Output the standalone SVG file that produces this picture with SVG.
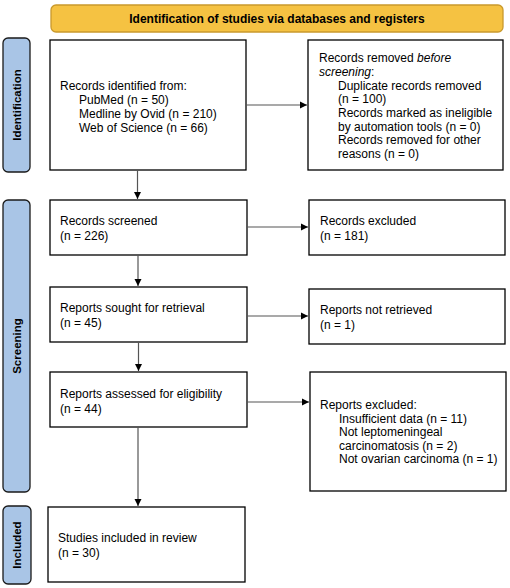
<svg xmlns="http://www.w3.org/2000/svg" width="510" height="588" viewBox="0 0 510 588">
<style>
  .box{fill:#fff;stroke:#000;stroke-width:1.3}
  .side{fill:#a9c5e6;stroke:#1a1a1a;stroke-width:1.3}
  .t{font-family:"Liberation Sans",Arial,sans-serif;font-size:12px;fill:#000}
  .st{font-family:"Liberation Sans",Arial,sans-serif;font-size:11.5px;font-weight:bold;fill:#000}
  .ht{font-family:"Liberation Sans",Arial,sans-serif;font-size:12px;font-weight:bold;fill:#000}
  .ln{stroke:#555;stroke-width:1.2;fill:none}
</style>
<defs>
  <marker id="ah" markerWidth="7" markerHeight="8" refX="7" refY="4" orient="auto" markerUnits="userSpaceOnUse">
    <path d="M0,0.5 L7,4 L0,7.5 Z" fill="#000"/>
  </marker>
</defs>
<g id="header">
  <rect x="51" y="5" width="452" height="27" rx="5" fill="#f5c242" stroke="#c9992c" stroke-width="1.3"/>
  <text class="ht" x="277" y="22.5" text-anchor="middle">Identification of studies via databases and registers</text>
</g>
<g id="side-identification">
  <rect class="side" x="3" y="38" width="27" height="134" rx="5"/>
  <text class="st" transform="translate(20.5,105) rotate(-90)" text-anchor="middle">Identification</text>
</g>
<g id="side-screening">
  <rect class="side" x="3" y="200" width="27" height="292" rx="5"/>
  <text class="st" transform="translate(20.5,346) rotate(-90)" text-anchor="middle">Screening</text>
</g>
<g id="side-included">
  <rect class="side" x="3" y="506" width="28" height="78" rx="5"/>
  <text class="st" transform="translate(21,545) rotate(-90)" text-anchor="middle">Included</text>
</g>
<g id="identified">
  <rect class="box" x="50" y="40" width="196" height="130"/>
  <text class="t" x="60" y="90">Records identified from:</text>
  <text class="t" x="79" y="104">PubMed (n = 50)</text>
  <text class="t" x="79" y="118">Medline by Ovid (n = 210)</text>
  <text class="t" x="79" y="131.5">Web of Science (n = 66)</text>
</g>
<g id="removed">
  <rect class="box" x="308" y="40" width="195" height="130"/>
  <text class="t" x="319" y="62">Records removed <tspan font-style="italic">before</tspan></text>
  <text class="t" x="319" y="76"><tspan font-style="italic">screening</tspan>:</text>
  <text class="t" x="338" y="89.5">Duplicate records removed</text>
  <text class="t" x="338" y="103">(n = 100)</text>
  <text class="t" x="338" y="117">Records marked as ineligible</text>
  <text class="t" x="338" y="130.5">by automation tools (n = 0)</text>
  <text class="t" x="338" y="144">Records removed for other</text>
  <text class="t" x="338" y="158">reasons (n = 0)</text>
</g>
<g id="screened">
  <rect class="box" x="50" y="200" width="197" height="55"/>
  <text class="t" x="60" y="225">Records screened</text>
  <text class="t" x="60" y="240">(n = 226)</text>
</g>
<g id="excluded">
  <rect class="box" x="309" y="200" width="196" height="55"/>
  <text class="t" x="320" y="225">Records excluded</text>
  <text class="t" x="320" y="240">(n = 181)</text>
</g>
<g id="sought">
  <rect class="box" x="50" y="287" width="197" height="55"/>
  <text class="t" x="60" y="312">Reports sought for retrieval</text>
  <text class="t" x="60" y="327">(n = 45)</text>
</g>
<g id="notretrieved">
  <rect class="box" x="309" y="289" width="196" height="55"/>
  <text class="t" x="320" y="314">Reports not retrieved</text>
  <text class="t" x="320" y="329">(n = 1)</text>
</g>
<g id="assessed">
  <rect class="box" x="50" y="372" width="197" height="55"/>
  <text class="t" x="60" y="398">Reports assessed for eligibility</text>
  <text class="t" x="60" y="413">(n = 44)</text>
</g>
<g id="reportsexcluded">
  <rect class="box" x="310" y="372" width="196" height="119"/>
  <text class="t" x="320" y="409">Reports excluded:</text>
  <text class="t" x="339" y="422.5">Insufficient data (n = 11)</text>
  <text class="t" x="339" y="436">Not leptomeningeal</text>
  <text class="t" x="339" y="449.5">carcinomatosis (n = 2)</text>
  <text class="t" x="339" y="463">Not ovarian carcinoma (n = 1)</text>
</g>
<g id="included">
  <rect class="box" x="48" y="507" width="197" height="75"/>
  <text class="t" x="58" y="542">Studies included in review</text>
  <text class="t" x="58" y="557">(n = 30)</text>
</g>
<g id="connectors">
  <line class="ln" x1="246" y1="105" x2="307" y2="105" marker-end="url(#ah)"/>
  <line class="ln" x1="137.5" y1="170" x2="137.5" y2="199" marker-end="url(#ah)"/>
  <line class="ln" x1="247" y1="227" x2="308" y2="227" marker-end="url(#ah)"/>
  <line class="ln" x1="138" y1="255" x2="138" y2="286" marker-end="url(#ah)"/>
  <line class="ln" x1="247" y1="316" x2="308" y2="316" marker-end="url(#ah)"/>
  <line class="ln" x1="138.5" y1="342" x2="138.5" y2="371" marker-end="url(#ah)"/>
  <line class="ln" x1="247" y1="402" x2="309" y2="402" marker-end="url(#ah)"/>
  <line class="ln" x1="138" y1="427" x2="138" y2="506" marker-end="url(#ah)"/>
</g>
</svg>
